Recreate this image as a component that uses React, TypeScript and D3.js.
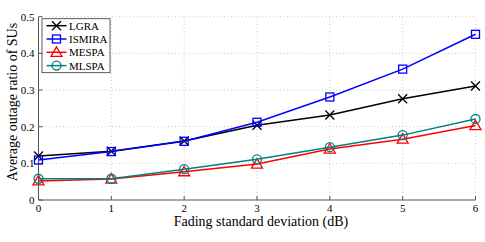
import React from "react";
import * as d3 from "d3";

const xs = [0, 1, 2, 3, 4, 5, 6];
const lgra = [0.12, 0.133, 0.161, 0.204, 0.232, 0.276, 0.311];
const ismira = [0.109, 0.132, 0.16, 0.212, 0.281, 0.357, 0.452];
const mespa = [0.052, 0.057, 0.077, 0.098, 0.139, 0.166, 0.203];
const mlspa = [0.058, 0.058, 0.084, 0.111, 0.144, 0.177, 0.221];
const seriesNames = ["LGRA", "ISMIRA", "MESPA", "MLSPA"];
const seriesColors = ["#000000", "#0000ff", "#ff0000", "#008080"];
const seriesMarkers = ["x", "square", "triangle", "circle"];
const yTicks = [0, 0.1, 0.2, 0.3, 0.4, 0.5];

const W = 485, H = 242;
const L = 38.5, R = 475.5, T = 16.7, B = 200;
const font = "Liberation Serif, serif";

function Marker({ type, x, y, color }: { type: string; x: number; y: number; color: string }) {
  const s = 4.5;
  if (type === "x")
    return <path d={`M${x - s},${y - s}L${x + s},${y + s}M${x - s},${y + s}L${x + s},${y - s}`} stroke={color} strokeWidth={1.3} fill="none" />;
  if (type === "square")
    return <rect x={x - 4} y={y - 4} width={8} height={8} stroke={color} strokeWidth={1.3} fill="none" />;
  if (type === "triangle")
    return <path d={`M${x},${y - 5.5}L${x + 5.5},${y + 4}L${x - 5.5},${y + 4}Z`} stroke={color} strokeWidth={1.3} fill="none" />;
  return <circle cx={x} cy={y} r={4.5} stroke={color} strokeWidth={1.3} fill="none" />;
}

export default function App() {
  const x = d3.scaleLinear().domain([0, 6]).range([L, R]);
  const y = d3.scaleLinear().domain([0, 0.5]).range([B, T]);
  const data = [lgra, ismira, mespa, mlspa];
  const line = d3.line<number>().x((_, i) => x(xs[i])).y((d) => y(d));
  return (
    <svg width={W} height={H} style={{ position: "absolute", left: 0, top: 0 }}>
      <rect width={W} height={H} fill="#fff" />
      {xs.slice(1).map((t) => (
        <line key={"gx" + t} x1={x(t)} x2={x(t)} y1={B} y2={T} stroke="#bbb" strokeWidth={0.8} strokeDasharray="1,2.5" />
      ))}
      {yTicks.slice(1).map((t) => (
        <line key={"gy" + t} x1={L} x2={R} y1={y(t)} y2={y(t)} stroke="#bbb" strokeWidth={0.8} strokeDasharray="1,2.5" />
      ))}
      <line x1={L} x2={R} y1={B} y2={B} stroke="#555" strokeWidth={1} />
      <line x1={L} x2={L} y1={B} y2={T} stroke="#555" strokeWidth={1} />
      {xs.map((t) => (
        <g key={"tx" + t}>
          <line x1={x(t)} x2={x(t)} y1={B} y2={B - 4} stroke="#555" />
          <text x={x(t)} y={B + 12} textAnchor="middle" fontFamily={font} fontSize={11}>{t}</text>
        </g>
      ))}
      {yTicks.map((t) => (
        <g key={"ty" + t}>
          <line x1={L} x2={L + 4} y1={y(t)} y2={y(t)} stroke="#555" />
          <text x={L - 4} y={y(t) + 4} textAnchor="end" fontFamily={font} fontSize={11}>{t === 0 ? "0" : t.toFixed(1)}</text>
        </g>
      ))}
      {data.map((d, k) => (
        <g key={"s" + k}>
          <path d={line(d) || ""} stroke={seriesColors[k]} strokeWidth={1.5} fill="none" />
          {d.map((v, i) => (
            <Marker key={i} type={seriesMarkers[k]} x={x(xs[i])} y={y(v)} color={seriesColors[k]} />
          ))}
        </g>
      ))}
      <text x={261} y={225.5} textAnchor="middle" fontFamily={font} fontSize={14}>Fading standard deviation (dB)</text>
      <text transform={`translate(17,${102}) rotate(-90)`} textAnchor="middle" fontFamily={font} fontSize={14}>Average outage ratio of SUs</text>
      <rect x={42} y={18.7} width={68} height={54} fill="#fff" stroke="#333" strokeWidth={0.8} />
      {seriesNames.map((n, k) => {
        const ly = 25.7 + k * 13.3;
        return (
          <g key={"l" + k}>
            <line x1={46.5} x2={66.5} y1={ly} y2={ly} stroke={seriesColors[k]} strokeWidth={1.5} />
            <Marker type={seriesMarkers[k]} x={56.5} y={ly} color={seriesColors[k]} />
            <text x={69} y={ly + 4} fontFamily={font} fontSize={11}>{n}</text>
          </g>
        );
      })}
    </svg>
  );
}
